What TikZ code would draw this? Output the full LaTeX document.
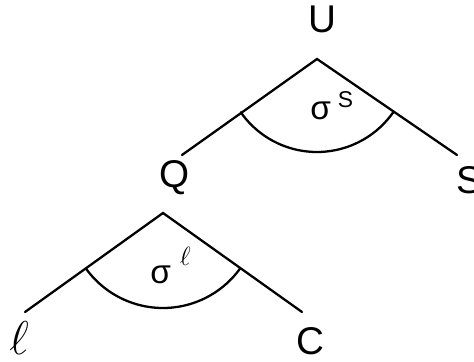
\RequirePackage{fix-cm}
\documentclass[tikz,border=0pt]{standalone}
\usepackage{fontspec}
\setmainfont{Liberation Sans}
\usepackage{tikz}
\usetikzlibrary{calc}
\tikzset{
  branch/.style={line width=1.3pt,line cap=round},
  leaflabel/.style={font=\fontsize{22}{24}\selectfont,inner sep=0pt},
  sigmalabel/.style={font=\fontsize{19}{21}\selectfont,inner sep=0pt,anchor=base west}
}

\begin{document}
\begin{tikzpicture}[scale=1]
    \useasboundingbox (0,0) rectangle (9.48,7.22);
    % upper tree
    \coordinate (uroot) at (6.34,6.04);
    \coordinate (uleft) at (3.64,4.12);
    \coordinate (uright) at (9.14,4.12);
    \node[leaflabel] (U) at (6.44,6.84) {U};
    \node[leaflabel] (Q) at (3.50,3.66) {Q};
    \node[leaflabel] (S) at (9.38,3.62) {S};
    \draw[branch] (uleft) -- (uroot) -- (uright);
    \draw[branch] ($(uroot)+(215:1.86)$) arc[start angle=215,end angle=325,radius=1.86];
    \node[sigmalabel] (sigS) at (6.20,4.82) {σ\hspace{0.14cm}\raisebox{0.25cm}{\fontsize{13}{15}\selectfont S}};
    % lower tree
    \coordinate (qroot) at (3.26,2.96);
    \coordinate (qleft) at (0.50,0.98);
    \coordinate (qright) at (6.04,0.98);
    \node[leaflabel,font=\fontsize{27}{29}\selectfont] (ell) at (0.38,0.46) {$\ell$};
    \node[leaflabel] (C) at (6.20,0.40) {C};
    \draw[branch] (qleft) -- (qroot) -- (qright);
    \draw[branch] ($(qroot)+(216:1.9)$) arc[start angle=216,end angle=324,radius=1.9];
    \node[sigmalabel] (sigL) at (3.00,1.56) {σ\hspace{0.18cm}\raisebox{0.36cm}{\fontsize{15}{17}\selectfont$\ell$}};
\end{tikzpicture}
\end{document}
